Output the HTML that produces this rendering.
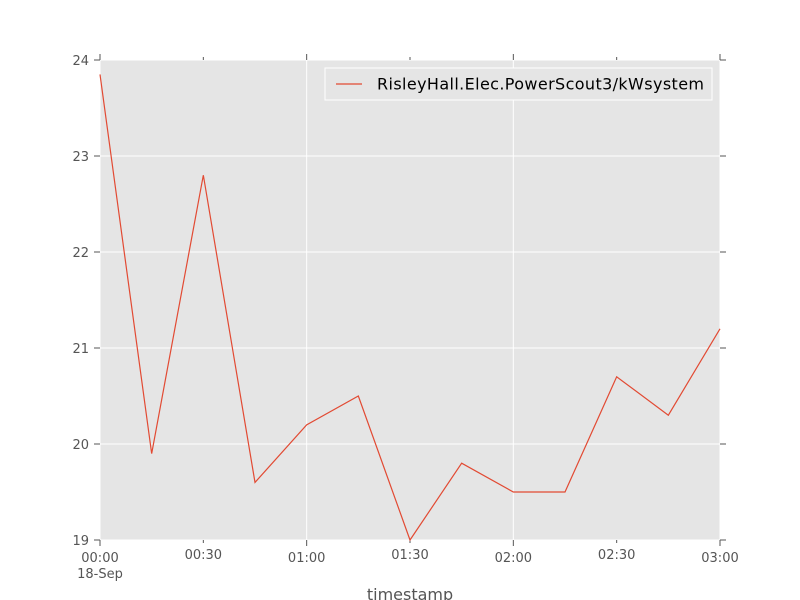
<!DOCTYPE html>
<html><head><meta charset="utf-8"><style>body{margin:0;background:#fff}svg{display:block;font-family:"DejaVu Sans","Liberation Sans",sans-serif}</style></head>
<body>
<svg id="chart" width="800" height="600" xmlns="http://www.w3.org/2000/svg">
<rect x="100" y="60" width="620" height="480" fill="#e5e5e5"/>
<g id="grid"></g><g id="ticks"></g><g id="series"></g>
<text x="410" y="600" font-size="16" fill="#555" text-anchor="middle">timestamp</text>
<g>
<rect x="325" y="68" width="387" height="32" fill="#e5e5e5" stroke="#fff" stroke-width="1"/>
<line x1="336" y1="84" x2="362" y2="84" stroke="#e24a33" stroke-width="1.2"/>
<text x="377" y="89.5" font-size="16" fill="#000" textLength="327">RisleyHall.Elec.PowerScout3/kWsystem</text>
</g>
</svg>
<script>
const minutes=[0,15,30,45,60,75,90,105,120,135,150,165,180];
const values=[23.85,19.9,22.8,19.6,20.2,20.5,19.0,19.8,19.5,19.5,20.7,20.3,21.2];
const yTicks=[19,20,21,22,23,24];
const xTickMinutes=[0,30,60,90,120,150,180];
const xTickLabels=["00:00","00:30","01:00","01:30","02:00","02:30","03:00"];
const NS="http://www.w3.org/2000/svg";
const X=m=>100+m/180*620, Y=v=>540-(v-19)/5*480;
function mk(p,tag,a){const e=document.createElementNS(NS,tag);for(const k in a)e.setAttribute(k,a[k]);p.appendChild(e);return e;}
const grid=document.getElementById('grid'),ticks=document.getElementById('ticks'),ser=document.getElementById('series');
yTicks.forEach(v=>{const y=Y(v);
 const g=mk(grid,'line',{x1:100,x2:720,y1:y,y2:y,stroke:'#fff','stroke-width':1});
 
 
 mk(ticks,'line',{x1:94,x2:100,y1:y,y2:y,stroke:'#555'});
 mk(ticks,'line',{x1:720,x2:726,y1:y,y2:y,stroke:'#555'});
 const t=mk(ticks,'text',{x:89,y:y+5,'font-size':13,fill:'#555','text-anchor':'end'});t.textContent=v;
 
 
});
xTickMinutes.forEach((m,i)=>{const x=X(m);const major=m%60===0;
 if(major){const g=mk(grid,'line',{x1:x,x2:x,y1:60,y2:540,stroke:'#fff','stroke-width':1});
  
  }
 const L=major?6:3;
 mk(ticks,'line',{x1:x,x2:x,y1:540,y2:540+L,stroke:'#555'});
 mk(ticks,'line',{x1:x,x2:x,y1:60-L,y2:60,stroke:'#555'});
 const t=mk(ticks,'text',{x:x,y:major?562:559,'font-size':13,fill:'#555','text-anchor':'middle'});t.textContent=xTickLabels[i];
 
 
});
const d=mk(ticks,'text',{x:100,y:578,'font-size':13,fill:'#555','text-anchor':'middle'});d.textContent='18-Sep';


const pl=mk(ser,'polyline',{points:minutes.map((m,i)=>X(m)+','+Y(values[i])).join(' '),fill:'none',stroke:'#e24a33','stroke-width':1.2});


</script>
</body></html>
